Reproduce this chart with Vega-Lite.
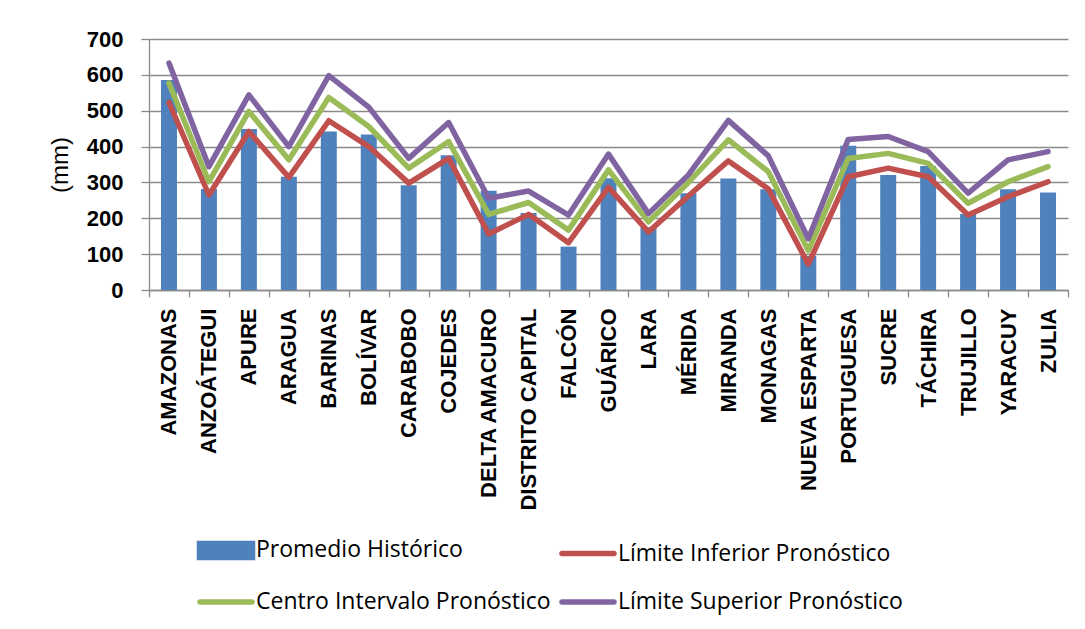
{
  "$schema": "https://vega.github.io/schema/vega-lite/v6.json",
  "autosize": "none",
  "width": 919,
  "height": 251,
  "padding": {"left": 149, "top": 39, "right": 17, "bottom": 339},
  "background": "white",
  "config": {
    "view": {"stroke": null},
    "axis": {"gridColor": "#8a8a8a", "gridWidth": 1.3, "domainColor": "#8a8a8a", "domainWidth": 1.3, "tickColor": "#8a8a8a", "tickWidth": 1.3}
  },
  "data": {"values": [
    {"e":"AMAZONAS","s":"Promedio Histórico","v":586},{"e":"AMAZONAS","s":"Límite Inferior Pronóstico","v":523},{"e":"AMAZONAS","s":"Centro Intervalo Pronóstico","v":577},{"e":"AMAZONAS","s":"Límite Superior Pronóstico","v":633},
    {"e":"ANZOÁTEGUI","s":"Promedio Histórico","v":282},{"e":"ANZOÁTEGUI","s":"Límite Inferior Pronóstico","v":265},{"e":"ANZOÁTEGUI","s":"Centro Intervalo Pronóstico","v":302},{"e":"ANZOÁTEGUI","s":"Límite Superior Pronóstico","v":344},
    {"e":"APURE","s":"Promedio Histórico","v":449},{"e":"APURE","s":"Límite Inferior Pronóstico","v":442},{"e":"APURE","s":"Centro Intervalo Pronóstico","v":498},{"e":"APURE","s":"Límite Superior Pronóstico","v":544},
    {"e":"ARAGUA","s":"Promedio Histórico","v":316},{"e":"ARAGUA","s":"Límite Inferior Pronóstico","v":314},{"e":"ARAGUA","s":"Centro Intervalo Pronóstico","v":363},{"e":"ARAGUA","s":"Límite Superior Pronóstico","v":400},
    {"e":"BARINAS","s":"Promedio Histórico","v":442},{"e":"BARINAS","s":"Límite Inferior Pronóstico","v":472},{"e":"BARINAS","s":"Centro Intervalo Pronóstico","v":537},{"e":"BARINAS","s":"Límite Superior Pronóstico","v":598},
    {"e":"BOLÍVAR","s":"Promedio Histórico","v":434},{"e":"BOLÍVAR","s":"Límite Inferior Pronóstico","v":400},{"e":"BOLÍVAR","s":"Centro Intervalo Pronóstico","v":456},{"e":"BOLÍVAR","s":"Límite Superior Pronóstico","v":510},
    {"e":"CARABOBO","s":"Promedio Histórico","v":292},{"e":"CARABOBO","s":"Límite Inferior Pronóstico","v":298},{"e":"CARABOBO","s":"Centro Intervalo Pronóstico","v":340},{"e":"CARABOBO","s":"Límite Superior Pronóstico","v":367},
    {"e":"COJEDES","s":"Promedio Histórico","v":376},{"e":"COJEDES","s":"Límite Inferior Pronóstico","v":367},{"e":"COJEDES","s":"Centro Intervalo Pronóstico","v":414},{"e":"COJEDES","s":"Límite Superior Pronóstico","v":467},
    {"e":"DELTA AMACURO","s":"Promedio Histórico","v":277},{"e":"DELTA AMACURO","s":"Límite Inferior Pronóstico","v":156},{"e":"DELTA AMACURO","s":"Centro Intervalo Pronóstico","v":211},{"e":"DELTA AMACURO","s":"Límite Superior Pronóstico","v":256},
    {"e":"DISTRITO CAPITAL","s":"Promedio Histórico","v":215},{"e":"DISTRITO CAPITAL","s":"Límite Inferior Pronóstico","v":211},{"e":"DISTRITO CAPITAL","s":"Centro Intervalo Pronóstico","v":244},{"e":"DISTRITO CAPITAL","s":"Límite Superior Pronóstico","v":276},
    {"e":"FALCÓN","s":"Promedio Histórico","v":121},{"e":"FALCÓN","s":"Límite Inferior Pronóstico","v":132},{"e":"FALCÓN","s":"Centro Intervalo Pronóstico","v":167},{"e":"FALCÓN","s":"Límite Superior Pronóstico","v":209},
    {"e":"GUÁRICO","s":"Promedio Histórico","v":312},{"e":"GUÁRICO","s":"Límite Inferior Pronóstico","v":286},{"e":"GUÁRICO","s":"Centro Intervalo Pronóstico","v":335},{"e":"GUÁRICO","s":"Límite Superior Pronóstico","v":379},
    {"e":"LARA","s":"Promedio Histórico","v":175},{"e":"LARA","s":"Límite Inferior Pronóstico","v":162},{"e":"LARA","s":"Centro Intervalo Pronóstico","v":190},{"e":"LARA","s":"Límite Superior Pronóstico","v":213},
    {"e":"MÉRIDA","s":"Promedio Histórico","v":270},{"e":"MÉRIDA","s":"Límite Inferior Pronóstico","v":262},{"e":"MÉRIDA","s":"Centro Intervalo Pronóstico","v":300},{"e":"MÉRIDA","s":"Límite Superior Pronóstico","v":321},
    {"e":"MIRANDA","s":"Promedio Histórico","v":311},{"e":"MIRANDA","s":"Límite Inferior Pronóstico","v":360},{"e":"MIRANDA","s":"Centro Intervalo Pronóstico","v":419},{"e":"MIRANDA","s":"Límite Superior Pronóstico","v":473},
    {"e":"MONAGAS","s":"Promedio Histórico","v":281},{"e":"MONAGAS","s":"Límite Inferior Pronóstico","v":282},{"e":"MONAGAS","s":"Centro Intervalo Pronóstico","v":330},{"e":"MONAGAS","s":"Límite Superior Pronóstico","v":374},
    {"e":"NUEVA ESPARTA","s":"Promedio Histórico","v":95},{"e":"NUEVA ESPARTA","s":"Límite Inferior Pronóstico","v":72},{"e":"NUEVA ESPARTA","s":"Centro Intervalo Pronóstico","v":110},{"e":"NUEVA ESPARTA","s":"Límite Superior Pronóstico","v":143},
    {"e":"PORTUGUESA","s":"Promedio Histórico","v":402},{"e":"PORTUGUESA","s":"Límite Inferior Pronóstico","v":316},{"e":"PORTUGUESA","s":"Centro Intervalo Pronóstico","v":367},{"e":"PORTUGUESA","s":"Límite Superior Pronóstico","v":420},
    {"e":"SUCRE","s":"Promedio Histórico","v":321},{"e":"SUCRE","s":"Límite Inferior Pronóstico","v":340},{"e":"SUCRE","s":"Centro Intervalo Pronóstico","v":381},{"e":"SUCRE","s":"Límite Superior Pronóstico","v":428},
    {"e":"TÁCHIRA","s":"Promedio Histórico","v":346},{"e":"TÁCHIRA","s":"Límite Inferior Pronóstico","v":316},{"e":"TÁCHIRA","s":"Centro Intervalo Pronóstico","v":353},{"e":"TÁCHIRA","s":"Límite Superior Pronóstico","v":386},
    {"e":"TRUJILLO","s":"Promedio Histórico","v":212},{"e":"TRUJILLO","s":"Límite Inferior Pronóstico","v":209},{"e":"TRUJILLO","s":"Centro Intervalo Pronóstico","v":242},{"e":"TRUJILLO","s":"Límite Superior Pronóstico","v":270},
    {"e":"YARACUY","s":"Promedio Histórico","v":281},{"e":"YARACUY","s":"Límite Inferior Pronóstico","v":260},{"e":"YARACUY","s":"Centro Intervalo Pronóstico","v":302},{"e":"YARACUY","s":"Límite Superior Pronóstico","v":363},
    {"e":"ZULIA","s":"Promedio Histórico","v":272},{"e":"ZULIA","s":"Límite Inferior Pronóstico","v":302},{"e":"ZULIA","s":"Centro Intervalo Pronóstico","v":344},{"e":"ZULIA","s":"Límite Superior Pronóstico","v":386}
  ]},
  "encoding": {
    "x": {"field": "e", "type": "nominal", "sort": null,
      "scale": {"paddingInner": 0, "paddingOuter": 0},
      "axis": {"title": null, "labelAngle": -90, "labelFont": "Liberation Sans", "labelFontWeight": "bold", "labelFontSize": 22, "labelColor": "black", "labelLimit": 300, "labelPadding": 11, "tickSize": 7, "tickBand": "extent", "grid": false}},
    "y": {"field": "v", "type": "quantitative",
      "scale": {"domain": [0, 700], "nice": false},
      "axis": {"title": "(mm)", "values": [0,100,200,300,400,500,600,700], "labelFont": "Liberation Sans", "labelFontWeight": "bold", "labelFontSize": 22, "labelColor": "black", "labelPadding": 18, "tickSize": 8, "titleFont": "Liberation Sans", "titleFontWeight": "normal", "titleFontSize": 24, "titleColor": "black", "titlePadding": 14, "grid": true}}
  },
  "layer": [
    {
      "transform": [{"filter": "datum.s === 'Promedio Histórico'"}],
      "mark": {"type": "bar", "width": {"band": 0.4}, "color": "#4F81BD"},
      "encoding": {"color": {"field": "s", "type": "nominal"}}
    },
    {
      "transform": [{"filter": "datum.s !== 'Promedio Histórico'"}],
      "mark": {"type": "line", "strokeWidth": 5.5, "strokeJoin": "round", "strokeCap": "round"},
      "encoding": {
        "color": {"field": "s", "type": "nominal",
          "scale": {"domain": ["Promedio Histórico", "Límite Inferior Pronóstico", "Centro Intervalo Pronóstico", "Límite Superior Pronóstico"], "range": ["#4F81BD", "#C0504D", "#9BBB59", "#8064A2"]},
          "legend": {"title": null, "orient": "none", "legendX": 48, "legendY": 482, "direction": "horizontal", "columns": 2, "symbolType": "stroke", "symbolSize": 2704, "symbolStrokeWidth": 5.5, "labelFont": "Open Sans", "labelFontSize": 23, "labelColor": "black", "labelLimit": 400, "labelOffset": 1, "columnPadding": 0, "rowPadding": 4, "padding": 0,
            "encode": {"symbols": {"update": {
              "shape": {"signal": "datum.value === 'Promedio Histórico' ? 'M-1.02,-0.27H1.02V0.27H-1.02Z' : 'stroke'"},
              "stroke": {"signal": "datum.value === 'Promedio Histórico' ? 'transparent' : scale('color', datum.value)"},
              "fill": {"signal": "datum.value === 'Promedio Histórico' ? scale('color', datum.value) : 'transparent'"},
              "strokeCap": {"value": "round"}
            }}}}
        }
      }
    }
  ]
}
